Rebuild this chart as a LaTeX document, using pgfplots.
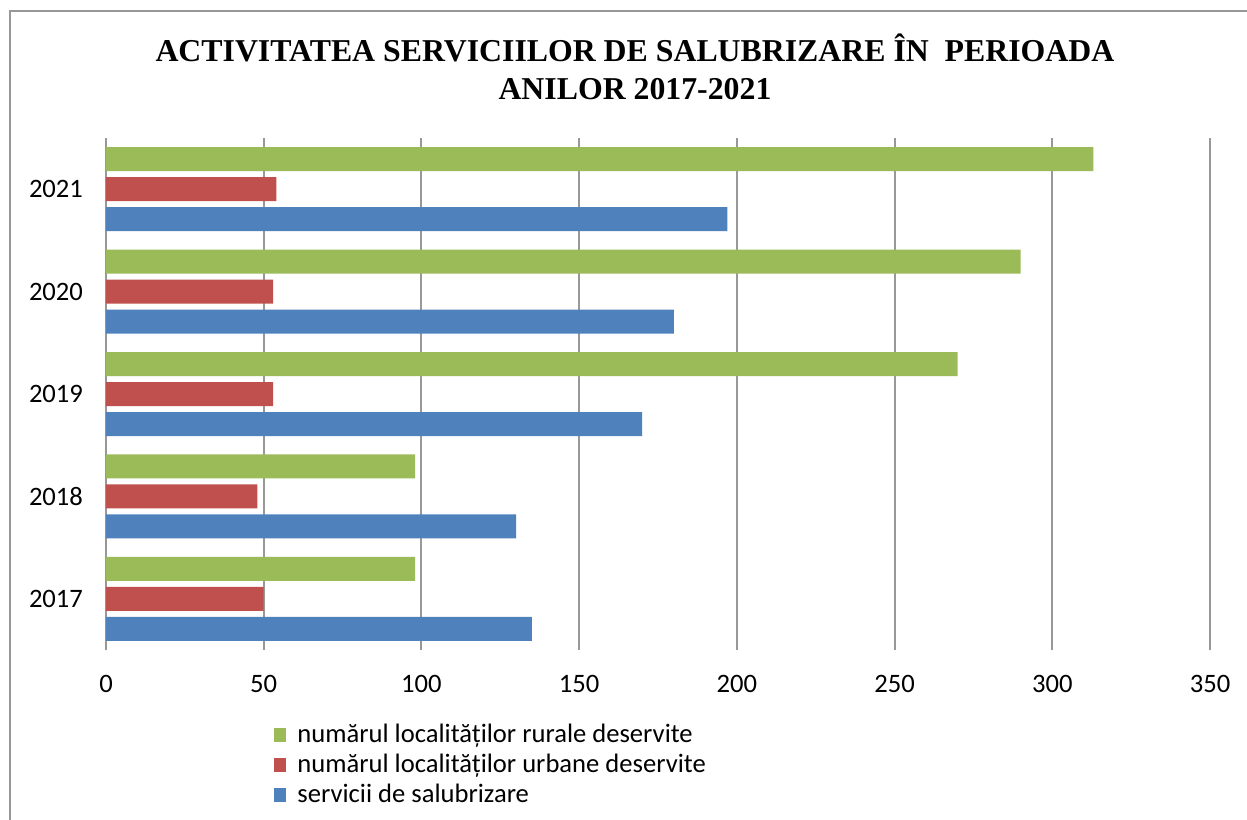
\documentclass[border=0pt]{standalone}
\usepackage{pgfplots}
\pgfplotsset{compat=1.18}
\usepackage{fontspec}
\setmainfont{Carlito}
\newfontfamily\titlefont{Liberation Serif}
\definecolor{cgreen}{HTML}{9BBB59}
\definecolor{cred}{HTML}{C0504D}
\definecolor{cblue}{HTML}{4F81BD}
\definecolor{cgrid}{HTML}{989898}
\begin{document}
\begin{tikzpicture}
\useasboundingbox (-53pt,-84.5pt) rectangle (570.5pt,325pt);
\draw[cgrid, line width=1pt] (-48pt,-90pt) -- (-48pt,319.5pt) -- (580pt,319.5pt);
\node[align=center, font=\titlefont\bfseries\fontsize{15.9}{19}\selectfont] at (264.5pt,291.5pt)
  {ACTIVITATEA SERVICIILOR DE SALUBRIZARE ÎN\ \ PERIOADA\\ANILOR 2017-2021};
\begin{axis}[
  at={(0pt,0pt)}, anchor=south west,
  scale only axis, width=552pt, height=256pt,
  xmin=0, xmax=350, ymin=-0.5, ymax=4.5,
  xtick={0,50,...,350},
  ytick={0,1,2,3,4},
  yticklabels={2017,2018,2019,2020,2021},
  /pgf/number format/assume math mode=true,
  xmajorgrids,
  grid style={cgrid, line width=1pt},
  axis line style={draw=none},
  major tick length=0pt,
  tick label style={font=\fontsize{13.3}{16}\selectfont},
  xticklabel style={yshift=-9pt},
  yticklabel style={xshift=-8pt},
  legend style={draw=none, fill=none, at={(0.1522,-0.136)}, anchor=north west,
    font=\fontsize{13.3}{15.5}\selectfont, row sep=0.3pt, inner sep=0pt,
    /tikz/every even column/.append style={column sep=0pt}},
  legend cell align=left,
  legend image code/.code={\fill[#1] (0pt,-3.5pt) rectangle (6pt,3.5pt); \path (9.5pt,0pt);},
]
\addplot[xbar, bar width=12pt, bar shift=15pt, fill=cgreen, draw=none]
  coordinates {(98,0) (98,1) (270,2) (290,3) (313,4)};
\addlegendentry{numărul localităților rurale deservite}
\addplot[xbar, bar width=12pt, bar shift=0pt, fill=cred, draw=none]
  coordinates {(50,0) (48,1) (53,2) (53,3) (54,4)};
\addlegendentry{numărul localităților urbane deservite}
\addplot[xbar, bar width=12pt, bar shift=-15pt, fill=cblue, draw=none]
  coordinates {(135,0) (130,1) (170,2) (180,3) (197,4)};
\addlegendentry{servicii de salubrizare}
\end{axis}
\end{tikzpicture}
\end{document}
